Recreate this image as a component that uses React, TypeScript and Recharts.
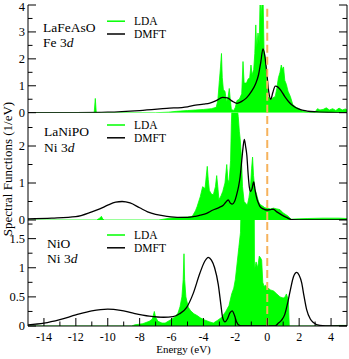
import React from 'react'
import { ComposedChart, Area, Line, XAxis, YAxis, ReferenceLine } from 'recharts'

const FONT = '"Liberation Serif", "Times New Roman", serif'
const GREEN = '#00ff00'
const FERMI = '#f6b25c'

const energyTicks = [-14, -13, -12, -11, -10, -9, -8, -7, -6, -5, -4, -3, -2, -1, 0, 1, 2, 3, 4]

// LaFeAsO, Fe 3d
const feLdaEnergy = [
  -15, -11, -10.85, -10.78, -10.72, -7, -6.2, -5.7, -5, -4.5, -4, -3.5, -3.2, -3.1, -3, -2.93, -2.87, -2.82,
  -2.75, -2.65, -2.55, -2.45, -2.38, -2.32, -2.25, -2.1, -2, -1.9, -1.75, -1.6, -1.52, -1.45, -1.3, -1.2,
  -1.1, -1.02, -0.95, -0.85, -0.78, -0.72, -0.66, -0.58, -0.5, -0.45, -0.38, -0.32, -0.26, -0.2, -0.12,
  -0.05, 0.05, 0.2, 0.35, 0.5, 0.6, 0.7, 0.8, 0.88, 0.95, 1.02, 1.1, 1.2, 1.3, 1.45, 1.6, 1.8, 2, 2.2, 2.6,
  3, 3.15, 3.3, 3.5, 3.7, 3.9, 4.1, 4.3, 4.5, 4.7, 4.9, 5,
]
const feLdaWeight = [
  0, 0, 0, 0.53, 0, 0, 0.02, 0.05, 0.08, 0.1, 0.12, 0.15, 0.2, 0.45, 1.2, 1.7, 2.2, 1.3,
  0.85, 0.8, 0.4, 0.6, 0.9, 0.5, 0.12, 0.08, 0.2, 0.45, 0.5, 0.7, 1.9, 1.1, 1.1, 1.25,
  1.3, 1.77, 1.4, 1.6, 2.2, 3.26, 2.4, 2.96, 2.6, 4.2, 3.5, 4.3, 4.2, 2.3, 2.0,
  1.1, 0.6, 0.5, 0.55, 0.6, 0.9, 1.3, 1.5, 1.77, 1.6, 1.7, 1.2, 1.05, 0.8, 0.6, 0.3, 0.2, 0.15, 0.05, 0.02,
  0.03, 0.15, 0.1, 0.12, 0.18, 0.1, 0.15, 0.08, 0.17, 0.1, 0.14, 0.1,
]
const feDmftEnergy = [
  -15, -12, -10, -8, -6.3, -5, -4.5, -4, -3.6, -3.2, -2.8, -2.5, -2.2, -1.9, -1.6, -1.3, -1, -0.75, -0.55,
  -0.4, -0.27, -0.15, -0.05, 0.1, 0.22, 0.35, 0.5, 0.6, 0.8, 1.1, 1.4, 1.7, 2, 2.5, 3.1, 4, 5,
]
const feDmftWeight = [
  0, 0.005, 0.02, 0.08, 0.16, 0.22, 0.28, 0.32, 0.36, 0.45, 0.57, 0.55, 0.43, 0.35, 0.42, 0.55, 0.78, 1.05, 1.4,
  1.9, 2.37, 2.1, 1.6, 0.75, 0.5, 0.75, 0.99, 0.98, 0.87, 0.6, 0.37, 0.22, 0.13, 0.06, 0.03, 0.01, 0,
]
const feTicks = [0, 0.5, 1, 1.5, 2, 2.5, 3, 3.5, 4]

// LaNiPO, Ni 3d
const niLdaEnergy = [
  -15, -10.7, -10.5, -10.4, -10.3, -10.2, -6.8, -6.1, -5.5, -5, -4.7, -4.5, -4.4, -4.2, -4.05, -3.9, -3.82,
  -3.76, -3.7, -3.63, -3.5, -3.38, -3.25, -3.17, -3.1, -3.03, -2.9, -2.79, -2.65, -2.54, -2.47, -2.4, -2.3,
  -2.25, -2.2, -2.1, -2, -1.9, -1.82, -1.75, -1.7, -1.62, -1.55, -1.45, -1.35, -1.25, -1.15, -1.05, -0.98,
  -0.92, -0.86, -0.78, -0.66, -0.55, -0.45, -0.3, -0.15, 0, 0.2, 0.4, 0.6, 0.8, 1, 1.15, 1.32, 1.5, 1.8,
  2.5, 3.5, 4.5, 5,
]
const niLdaWeight = [
  0, 0, 0.05, 0.1, 0.02, 0, 0, 0.05, 0.07, 0.08, 0.1, 0.25, 0.36, 0.63, 0.9, 0.85, 1.2,
  1.45, 1.1, 0.8, 0.7, 0.68, 0.9, 1.2, 0.9, 0.55, 0.65, 0.77, 1.0, 1.5, 1.1, 1.0, 1.6,
  2.6, 3.2, 3.0, 3.2, 3.1, 2.8, 2.4, 2.2, 1.7, 0.9, 0.5, 0.45, 0.4, 0.6, 0.9, 1.4,
  1.7, 1.2, 0.85, 0.68, 0.5, 0.42, 0.38, 0.33, 0.32, 0.3, 0.32, 0.3, 0.28, 0.19, 0.15, 0.1, 0.02, 0.03,
  0.04, 0.05, 0.05, 0.04,
]
const niDmftEnergy = [
  -15, -13.5, -12, -11, -10.5, -10, -9.5, -9.1, -8.6, -8, -7.5, -7, -6.3, -5.5, -5, -4.5, -4.2, -3.8, -3.4,
  -3, -2.76, -2.6, -2.45, -2.3, -2.2, -2.05, -1.92, -1.8, -1.7, -1.6, -1.52, -1.44, -1.36, -1.28, -1.2,
  -1.12, -1.04, -0.95, -0.85, -0.76, -0.66, -0.55, -0.45, -0.25, -0.04, 0.2, 0.38, 0.6, 0.9, 1.2, 1.53, 2, 5,
]
const niDmftWeight = [
  0.03, 0.05, 0.09, 0.22, 0.3, 0.4, 0.48, 0.5, 0.46, 0.33, 0.22, 0.15, 0.1, 0.07, 0.07, 0.1, 0.13, 0.18, 0.27,
  0.34, 0.4, 0.48, 0.54, 0.45, 0.43, 0.5, 0.68, 0.9, 1.17, 1.6, 1.95, 2.18, 2.0, 1.75, 1.25,
  0.88, 0.77, 0.85, 1.03, 0.8, 0.59, 0.45, 0.36, 0.3, 0.27, 0.28, 0.29, 0.22, 0.14, 0.07, 0.01, 0.005, 0,
]
const niTicks = [0, 0.5, 1, 1.5, 2, 2.5]

// NiO, Ni 3d
const nioLdaEnergy = [
  -15, -8.5, -8.3, -7.8, -7.4, -7.2, -7.08, -7, -6.85, -6.6, -6.4, -6.1, -5.8, -5.6, -5.47, -5.35, -5.27,
  -5.22, -5.18, -5.1, -4.95, -4.8, -4.6, -4.4, -4.2, -3.9, -3.6, -3.38, -3.1, -2.85, -2.6, -2.4, -2.23,
  -2.1, -2, -1.88, -1.78, -1.68, -1.6, -1.2, -0.82, -0.8, -0.7, -0.6, -0.5, -0.42, -0.35, -0.28, -0.2,
  -0.12, 0, 0.2, 0.4, 0.6, 0.8, 1, 1.12, 1.2, 1.28, 1.33, 1.38, 4, 4.5, 5,
]
const nioLdaWeight = [
  0, 0, 0.02, 0.04, 0.08, 0.12, 0.25, 0.15, 0.08, 0.05, 0.05, 0.1, 0.15, 0.22, 0.33, 0.5, 0.8,
  1.24, 0.8, 0.5, 0.32, 0.26, 0.21, 0.18, 0.14, 0.1, 0.07, 0.05, 0.1, 0.15, 0.25, 0.35, 0.55,
  0.65, 0.8, 1.1, 1.35, 1.6, 2.5, 2.5, 2.5, 0.97, 1.1, 1.0, 1.2, 1.17, 1.13, 0.75, 0.68,
  0.7, 0.66, 0.62, 0.6, 0.55, 0.5, 0.48, 0.5, 0.55, 0.48, 0.4, 0, 0, 0.01, 0.01,
]
const nioDmftEnergy = [
  -15, -14, -13, -12, -11, -10, -9.2, -8.4, -7.4, -6.5, -5.9, -5.5, -5.05, -4.64, -4.22, -3.9, -3.7, -3.5,
  -3.3, -3.07, -2.9, -2.8, -2.65, -2.5, -2.35, -2.2, -2.05, -1.92, -1.75, -1.6, 0.5, 0.7, 0.9, 1.1, 1.3,
  1.45, 1.65, 1.85, 2, 2.16, 2.3, 2.47, 2.7, 2.89, 3.3, 4, 5,
]
const nioDmftWeight = [
  0.02, 0.05, 0.11, 0.19, 0.26, 0.29, 0.27, 0.22, 0.17, 0.15, 0.16, 0.21, 0.32, 0.56, 0.91, 1.12, 1.18, 1.13,
  1.0, 0.71, 0.35, 0.15, 0.07, 0.12, 0.22, 0.26, 0.18, 0.07, 0.01, 0, 0, 0.05, 0.1, 0.2, 0.42,
  0.62, 0.85, 0.92, 0.87, 0.74, 0.52, 0.28, 0.12, 0.06, 0.01, 0, 0,
]
const nioTicks = [0, 0.25, 0.5, 0.75, 1, 1.25, 1.5, 1.75]

type Row = { e: number; lda?: number; dmft?: number }

function mergeSeries(ldaE: number[], ldaV: number[], dmftE: number[], dmftV: number[]): Row[] {
  const rows = new Map<number, Row>()
  ldaE.forEach((e, i) => rows.set(e, { ...(rows.get(e) ?? { e }), lda: ldaV[i] }))
  dmftE.forEach((e, i) => rows.set(e, { ...(rows.get(e) ?? { e }), dmft: dmftV[i] }))
  return [...rows.values()].sort((a, b) => a.e - b.e)
}

const isMajor = (v: number, step: number) => Math.abs(v / step - Math.round(v / step)) < 1e-6

const MAJOR = 8
const MINOR = 4.5
const TICK_FONT = 12.5

type TickProps = { x?: number; y?: number; payload?: { value: number } }

const leftTick = (step: number, top: number) => ({ x = 0, y = 0, payload }: TickProps) => {
  const v = payload?.value ?? 0
  const major = isMajor(v, step)
  // keep the top label inside the page
  const baseline = Math.max(y + TICK_FONT * 0.34, TICK_FONT * 0.9 - top)
  return (
    <g>
      <line x1={x} x2={x + (major ? MAJOR : MINOR)} y1={y} y2={y} stroke="#000" />
      {major && (
        <text x={x - 3} y={baseline} textAnchor="end" fontFamily={FONT} fontSize={TICK_FONT} fill="#000">
          {v}
        </text>
      )}
    </g>
  )
}

const rightTick = (step: number) => ({ x = 0, y = 0, payload }: TickProps) => {
  const major = isMajor(payload?.value ?? 0, step)
  return <line x1={x} x2={x - (major ? MAJOR : MINOR)} y1={y} y2={y} stroke="#000" />
}

const topTick = ({ x = 0, y = 0, payload }: TickProps) => {
  const major = isMajor(payload?.value ?? 0, 2)
  return <line x1={x} x2={x} y1={y} y2={y + (major ? MAJOR : MINOR)} stroke="#000" />
}

const bottomTick = ({ x = 0, y = 0, payload }: TickProps) => {
  const v = payload?.value ?? 0
  const major = isMajor(v, 2)
  return (
    <g>
      <line x1={x} x2={x} y1={y} y2={y - (major ? MAJOR : MINOR)} stroke="#000" />
      {major && (
        <text x={x} y={y + 14.5} textAnchor="middle" fontFamily={FONT} fontSize={12} fill="#000">
          {v}
        </text>
      )}
    </g>
  )
}

const panels = [
  {
    key: 'fe',
    rows: mergeSeries(feLdaEnergy, feLdaWeight, feDmftEnergy, feDmftWeight),
    yMax: 4,
    yTicks: feTicks,
    step: 1,
    top: 0,
    height: 122,
    margin: { top: 5, right: 0, bottom: 9.3, left: 0 },
    first: true,
    last: false,
  },
  {
    key: 'ni',
    rows: mergeSeries(niLdaEnergy, niLdaWeight, niDmftEnergy, niDmftWeight),
    yMax: 2.9,
    yTicks: niTicks,
    step: 1,
    top: 108,
    height: 120,
    margin: { top: 4.7, right: 0, bottom: 8, left: 0 },
    first: false,
    last: false,
  },
  {
    key: 'nio',
    rows: mergeSeries(nioLdaEnergy, nioLdaWeight, nioDmftEnergy, nioDmftWeight),
    yMax: 1.82,
    yTicks: nioTicks,
    step: 0.5,
    top: 215,
    height: 144,
    margin: { top: 5, right: 0, bottom: 13, left: 0 },
    first: false,
    last: true,
  },
]

const labels = [
  { name: 'LaFeAsO', orb: 'Fe 3', x: 43, y1: 32, y2: 47, leg: 21.2 },
  { name: 'LaNiPO', orb: 'Ni 3', x: 44, y1: 136, y2: 151.5, leg: 125 },
  { name: 'NiO', orb: 'Ni 3', x: 47, y1: 247.5, y2: 263, leg: 235 },
]
const LEG_GAP = 12.8

export default function App() {
  return (
    <div style={{ position: 'absolute', left: 0, top: 0, width: 349, height: 359, background: '#fff' }}>
      {panels.map((p) => (
        <div key={p.key} style={{ position: 'absolute', left: 0, top: p.top }}>
          <ComposedChart width={349} height={p.height} data={p.rows} margin={p.margin}>
            <XAxis
              xAxisId="b"
              dataKey="e"
              type="number"
              domain={[-15, 5]}
              allowDataOverflow
              ticks={energyTicks}
              interval={0}
              tickSize={0}
              tickMargin={0}
              tickLine={false}
              tick={p.last ? bottomTick : false}
              axisLine={{ stroke: '#000' }}
              height={p.last ? 20 : 0}
            />
            {p.first && (
              <XAxis
                xAxisId="t"
                orientation="top"
                type="number"
                domain={[-15, 5]}
                allowDataOverflow
                ticks={energyTicks}
                interval={0}
                tickSize={0}
                tickMargin={0}
                tickLine={false}
                tick={topTick}
                axisLine={{ stroke: '#000' }}
                height={0}
              />
            )}
            <YAxis
              yAxisId="l"
              type="number"
              domain={[0, p.yMax]}
              allowDataOverflow
              ticks={p.yTicks}
              interval={0}
              tickSize={0}
              tickMargin={0}
              tickLine={false}
              tick={leftTick(p.step, p.top)}
              axisLine={{ stroke: '#000' }}
              width={28}
            />
            <YAxis
              yAxisId="r"
              orientation="right"
              type="number"
              domain={[0, p.yMax]}
              allowDataOverflow
              ticks={p.yTicks}
              interval={0}
              tickSize={0}
              tickMargin={0}
              tickLine={false}
              tick={rightTick(p.step)}
              axisLine={{ stroke: '#000' }}
              width={2}
            />
            <Area
              xAxisId="b"
              yAxisId="l"
              dataKey="lda"
              type="linear"
              connectNulls
              baseValue={0}
              stroke={GREEN}
              strokeWidth={0.8}
              fill={GREEN}
              fillOpacity={1}
              dot={false}
              activeDot={false}
              isAnimationActive={false}
            />
            <Line
              xAxisId="b"
              yAxisId="l"
              dataKey="dmft"
              type="monotone"
              connectNulls
              stroke="#000"
              strokeWidth={1.3}
              dot={false}
              activeDot={false}
              isAnimationActive={false}
            />
            <ReferenceLine xAxisId="b" yAxisId="l" x={0} stroke={FERMI} strokeWidth={2} strokeDasharray="8 4" />
          </ComposedChart>
        </div>
      ))}
      <svg
        width={349}
        height={359}
        style={{ position: 'absolute', left: 0, top: 0, pointerEvents: 'none' }}
        fontFamily={FONT}
      >
        {labels.map((l) => (
          <g key={l.name}>
            <text x={l.x} y={l.y1} fontSize={13.5} fill="#000">
              {l.name}
            </text>
            <text x={l.x} y={l.y2} fontSize={13.5} fill="#000">
              {l.orb}
              <tspan fontStyle="italic">d</tspan>
            </text>
            <line x1={107} x2={125} y1={l.leg} y2={l.leg} stroke={GREEN} strokeWidth={1.5} />
            <text x={134} y={l.leg + 4} fontSize={11.5} fill="#000">
              LDA
            </text>
            <line x1={107} x2={125} y1={l.leg + LEG_GAP} y2={l.leg + LEG_GAP} stroke="#000" strokeWidth={1.5} />
            <text x={134} y={l.leg + LEG_GAP + 4} fontSize={11.5} fill="#000">
              DMFT
            </text>
          </g>
        ))}
        <text x={7} y={169} transform="rotate(-90 7 169)" textAnchor="middle" dy="0.35em" fontSize={13} fill="#000">
          Spectral Functions (1/eV)
        </text>
        <text x={183.5} y={353} textAnchor="middle" fontSize={11} fill="#000">
          Energy (eV)
        </text>
      </svg>
    </div>
  )
}
